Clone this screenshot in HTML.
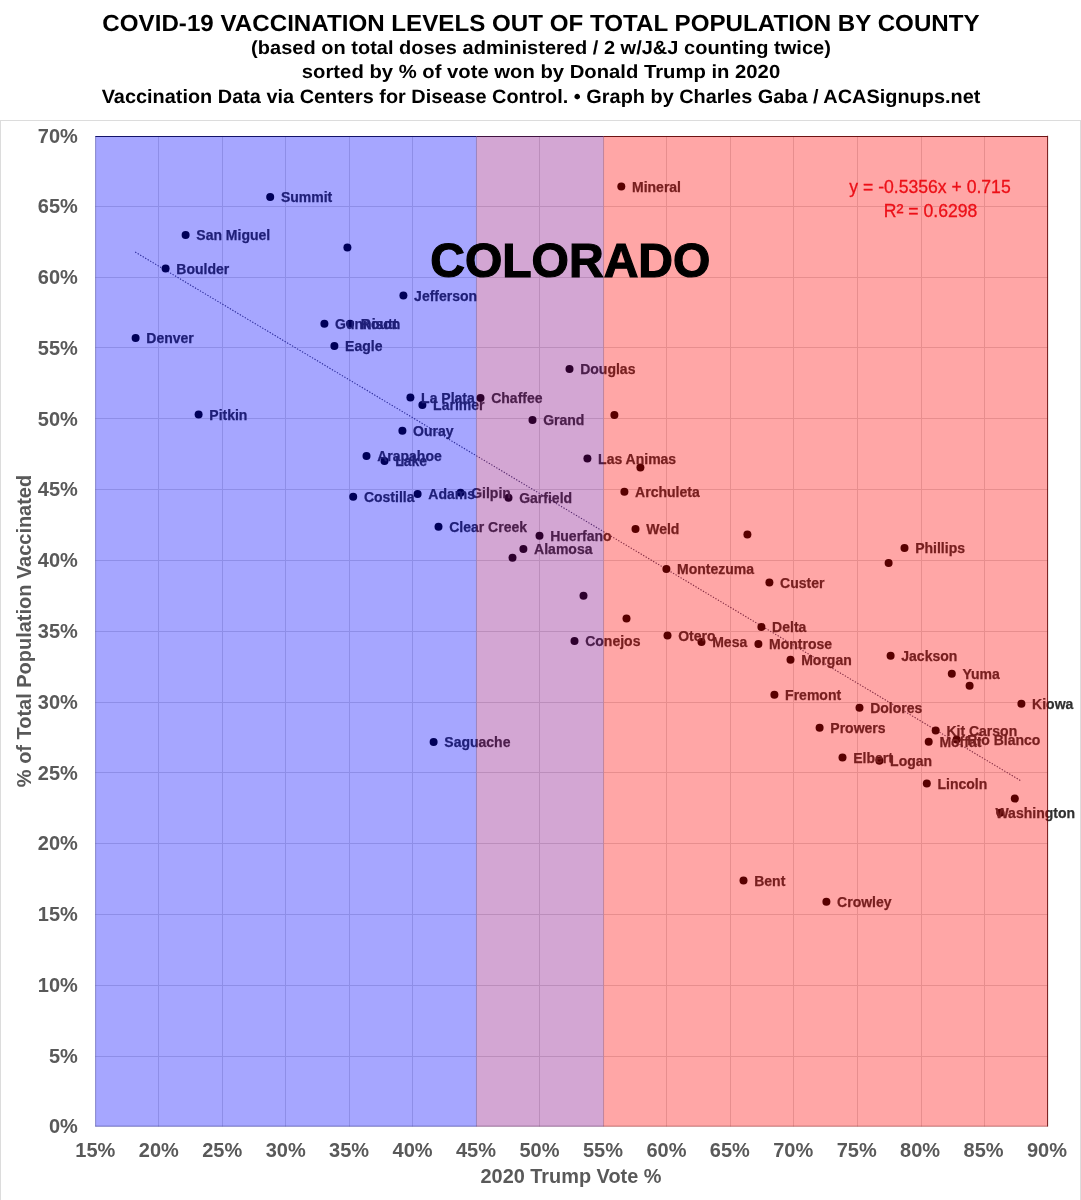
<!DOCTYPE html>
<html lang="en">
<head>
<meta charset="utf-8">
<title>COVID-19 Vaccination Levels by County - Colorado</title>
<style>
html,body{margin:0;padding:0;background:#fff;}
body{width:1081px;height:1200px;position:relative;overflow:hidden;font-family:"Liberation Sans",Arial,sans-serif;}
.t{position:absolute;left:0;width:1082px;text-align:center;font-weight:bold;color:#000;white-space:nowrap;line-height:1;}
#frame{position:absolute;left:0;top:120px;width:1079px;height:1100px;border:1px solid #dcdcdc;box-sizing:content-box;}
svg{position:absolute;left:0;top:0;}
.ax{font-family:"Liberation Sans",Arial,sans-serif;font-weight:bold;font-size:20px;fill:#595959;}
.lb{font-family:"Liberation Sans",Arial,sans-serif;font-weight:bold;font-size:14px;fill:#303030;stroke:#303030;stroke-width:0.25px;}
.eq{font-family:"Liberation Sans",Arial,sans-serif;font-size:17.6px;fill:#e21824;stroke:#e21824;stroke-width:0.3px;}
.big{font-family:"Liberation Sans",Arial,sans-serif;font-weight:bold;font-size:47.5px;fill:#000;stroke:#000;stroke-width:1.2px;}
</style>
</head>
<body>
<div class="t" id="t1" style="top:11.8px;font-size:23.25px;transform:scaleX(1.039) skewX(0.05deg);">COVID-19 VACCINATION LEVELS OUT OF TOTAL POPULATION BY COUNTY</div>
<div class="t" id="t2" style="top:38.3px;font-size:19px;transform:scaleX(1.054) skewX(0.05deg);">(based on total doses administered / 2 w/J&amp;J counting twice)</div>
<div class="t" id="t3" style="top:62.4px;font-size:19px;transform:scaleX(1.066) skewX(0.05deg);">sorted by % of vote won by Donald Trump in 2020</div>
<div class="t" id="t4" style="top:86.5px;font-size:19.33px;transform:scaleX(1.0295) skewX(0.05deg);">Vaccination Data via Centers for Disease Control. &bull; Graph by Charles Gaba / ACASignups.net</div>
<div id="frame"></div>
<svg width="1081" height="1200" viewBox="0 0 1081 1200">

<g stroke="#dadada" stroke-width="1" fill="none">
<line x1="158.50" y1="136.30" x2="158.50" y2="1126.50"/>
<line x1="222.50" y1="136.30" x2="222.50" y2="1126.50"/>
<line x1="285.50" y1="136.30" x2="285.50" y2="1126.50"/>
<line x1="349.50" y1="136.30" x2="349.50" y2="1126.50"/>
<line x1="412.50" y1="136.30" x2="412.50" y2="1126.50"/>
<line x1="476.50" y1="136.30" x2="476.50" y2="1126.50"/>
<line x1="539.50" y1="136.30" x2="539.50" y2="1126.50"/>
<line x1="603.50" y1="136.30" x2="603.50" y2="1126.50"/>
<line x1="666.50" y1="136.30" x2="666.50" y2="1126.50"/>
<line x1="730.50" y1="136.30" x2="730.50" y2="1126.50"/>
<line x1="793.50" y1="136.30" x2="793.50" y2="1126.50"/>
<line x1="857.50" y1="136.30" x2="857.50" y2="1126.50"/>
<line x1="921.50" y1="136.30" x2="921.50" y2="1126.50"/>
<line x1="984.50" y1="136.30" x2="984.50" y2="1126.50"/>
<line x1="95.40" y1="206.50" x2="1047.60" y2="206.50"/>
<line x1="95.40" y1="277.50" x2="1047.60" y2="277.50"/>
<line x1="95.40" y1="347.50" x2="1047.60" y2="347.50"/>
<line x1="95.40" y1="418.50" x2="1047.60" y2="418.50"/>
<line x1="95.40" y1="489.50" x2="1047.60" y2="489.50"/>
<line x1="95.40" y1="560.50" x2="1047.60" y2="560.50"/>
<line x1="95.40" y1="631.50" x2="1047.60" y2="631.50"/>
<line x1="95.40" y1="702.50" x2="1047.60" y2="702.50"/>
<line x1="95.40" y1="772.50" x2="1047.60" y2="772.50"/>
<line x1="95.40" y1="843.50" x2="1047.60" y2="843.50"/>
<line x1="95.40" y1="914.50" x2="1047.60" y2="914.50"/>
<line x1="95.40" y1="985.50" x2="1047.60" y2="985.50"/>
<line x1="95.40" y1="1056.50" x2="1047.60" y2="1056.50"/>
</g>
<line id="trend" x1="135.2" y1="252.06" x2="1020.9" y2="780.82" stroke="#404064" stroke-width="1.1" stroke-dasharray="1.3 1.6"/>
<g fill="#000">
<circle cx="270.2" cy="196.9" r="4"/>
<circle cx="185.6" cy="234.9" r="4"/>
<circle cx="347.4" cy="247.5" r="4"/>
<circle cx="165.6" cy="268.5" r="4"/>
<circle cx="403.4" cy="295.5" r="4"/>
<circle cx="324.4" cy="323.8" r="4"/>
<circle cx="350.1" cy="323.8" r="4"/>
<circle cx="334.4" cy="346.0" r="4"/>
<circle cx="135.6" cy="338.1" r="4"/>
<circle cx="410.4" cy="397.6" r="4"/>
<circle cx="422.4" cy="404.9" r="4"/>
<circle cx="480.5" cy="397.9" r="4"/>
<circle cx="198.6" cy="414.6" r="4"/>
<circle cx="402.4" cy="430.7" r="4"/>
<circle cx="366.5" cy="455.9" r="4"/>
<circle cx="384.5" cy="461.0" r="4"/>
<circle cx="353.2" cy="496.7" r="4"/>
<circle cx="417.6" cy="494.0" r="4"/>
<circle cx="460.5" cy="492.8" r="4"/>
<circle cx="508.5" cy="497.8" r="4"/>
<circle cx="438.5" cy="526.8" r="4"/>
<circle cx="433.6" cy="741.9" r="4"/>
<circle cx="569.5" cy="368.9" r="4"/>
<circle cx="532.5" cy="419.9" r="4"/>
<circle cx="614.4" cy="415.0" r="4"/>
<circle cx="587.4" cy="458.5" r="4"/>
<circle cx="640.4" cy="467.5" r="4"/>
<circle cx="624.4" cy="491.8" r="4"/>
<circle cx="635.5" cy="528.9" r="4"/>
<circle cx="539.5" cy="535.7" r="4"/>
<circle cx="523.4" cy="548.9" r="4"/>
<circle cx="512.5" cy="557.8" r="4"/>
<circle cx="666.4" cy="568.9" r="4"/>
<circle cx="583.5" cy="595.8" r="4"/>
<circle cx="626.5" cy="618.6" r="4"/>
<circle cx="574.5" cy="640.9" r="4"/>
<circle cx="667.5" cy="635.5" r="4"/>
<circle cx="701.5" cy="641.9" r="4"/>
<circle cx="761.4" cy="626.9" r="4"/>
<circle cx="758.4" cy="643.9" r="4"/>
<circle cx="790.5" cy="659.8" r="4"/>
<circle cx="774.4" cy="694.8" r="4"/>
<circle cx="769.4" cy="582.6" r="4"/>
<circle cx="747.4" cy="534.6" r="4"/>
<circle cx="904.5" cy="547.9" r="4"/>
<circle cx="888.6" cy="562.9" r="4"/>
<circle cx="890.6" cy="655.7" r="4"/>
<circle cx="951.8" cy="673.8" r="4"/>
<circle cx="969.6" cy="685.7" r="4"/>
<circle cx="1021.4" cy="703.8" r="4"/>
<circle cx="859.5" cy="707.7" r="4"/>
<circle cx="819.6" cy="727.8" r="4"/>
<circle cx="935.7" cy="730.6" r="4"/>
<circle cx="928.7" cy="741.7" r="4"/>
<circle cx="956.6" cy="739.5" r="4"/>
<circle cx="842.5" cy="757.6" r="4"/>
<circle cx="879.4" cy="760.7" r="4"/>
<circle cx="926.8" cy="783.6" r="4"/>
<circle cx="1014.8" cy="798.6" r="4"/>
<circle cx="1000.3" cy="812.8" r="4"/>
<circle cx="743.5" cy="880.6" r="4"/>
<circle cx="826.4" cy="901.8" r="4"/>
<circle cx="621.3" cy="186.6" r="4"/>
</g>
<g class="lb">
<text x="280.9" y="202.1">Summit</text>
<text x="196.3" y="240.1">San Miguel</text>
<text x="176.3" y="273.7">Boulder</text>
<text x="414.1" y="300.7">Jefferson</text>
<text x="335.1" y="329.0">Gunnison</text>
<text x="360.8" y="329.0">Routt</text>
<text x="345.1" y="351.2">Eagle</text>
<text x="146.3" y="343.3">Denver</text>
<text x="421.1" y="402.8">La Plata</text>
<text x="433.1" y="410.1">Larimer</text>
<text x="491.2" y="403.1">Chaffee</text>
<text x="209.3" y="419.8">Pitkin</text>
<text x="413.1" y="435.9">Ouray</text>
<text x="377.2" y="461.1">Arapahoe</text>
<text x="395.2" y="466.2">Lake</text>
<text x="363.9" y="501.9">Costilla</text>
<text x="428.3" y="499.2">Adams</text>
<text x="471.2" y="498.0">Gilpin</text>
<text x="519.2" y="503.0">Garfield</text>
<text x="449.2" y="532.0">Clear Creek</text>
<text x="444.3" y="747.1">Saguache</text>
<text x="580.2" y="374.1">Douglas</text>
<text x="543.2" y="425.1">Grand</text>
<text x="598.1" y="463.7">Las Animas</text>
<text x="635.1" y="497.0">Archuleta</text>
<text x="646.2" y="534.1">Weld</text>
<text x="550.2" y="540.9">Huerfano</text>
<text x="534.1" y="554.1">Alamosa</text>
<text x="677.1" y="574.1">Montezuma</text>
<text x="585.2" y="646.1">Conejos</text>
<text x="678.2" y="640.7">Otero</text>
<text x="712.2" y="647.1">Mesa</text>
<text x="772.1" y="632.1">Delta</text>
<text x="769.1" y="649.1">Montrose</text>
<text x="801.2" y="665.0">Morgan</text>
<text x="785.1" y="700.0">Fremont</text>
<text x="780.1" y="587.8">Custer</text>
<text x="915.2" y="553.1">Phillips</text>
<text x="901.3" y="660.9">Jackson</text>
<text x="962.5" y="679.0">Yuma</text>
<text x="1032.1" y="709.0">Kiowa</text>
<text x="870.2" y="712.9">Dolores</text>
<text x="830.3" y="733.0">Prowers</text>
<text x="946.4" y="735.8">Kit Carson</text>
<text x="939.4" y="746.9">Moffat</text>
<text x="967.3" y="744.7">Rio Blanco</text>
<text x="853.2" y="762.8">Elbert</text>
<text x="890.1" y="765.9">Logan</text>
<text x="937.5" y="788.8">Lincoln</text>
<text x="1075" y="818.0" text-anchor="end">Washington</text>
<text x="754.2" y="885.8">Bent</text>
<text x="837.1" y="907.0">Crowley</text>
<text x="632.0" y="191.8">Mineral</text>
</g>
<g class="ax">
<text transform="translate(77.8,142.5) scale(1,1.05)" text-anchor="end">70%</text>
<text transform="translate(77.8,213.3) scale(1,1.05)" text-anchor="end">65%</text>
<text transform="translate(77.8,284.1) scale(1,1.05)" text-anchor="end">60%</text>
<text transform="translate(77.8,354.8) scale(1,1.05)" text-anchor="end">55%</text>
<text transform="translate(77.8,425.6) scale(1,1.05)" text-anchor="end">50%</text>
<text transform="translate(77.8,496.4) scale(1,1.05)" text-anchor="end">45%</text>
<text transform="translate(77.8,567.2) scale(1,1.05)" text-anchor="end">40%</text>
<text transform="translate(77.8,638.0) scale(1,1.05)" text-anchor="end">35%</text>
<text transform="translate(77.8,708.7) scale(1,1.05)" text-anchor="end">30%</text>
<text transform="translate(77.8,779.5) scale(1,1.05)" text-anchor="end">25%</text>
<text transform="translate(77.8,850.3) scale(1,1.05)" text-anchor="end">20%</text>
<text transform="translate(77.8,921.1) scale(1,1.05)" text-anchor="end">15%</text>
<text transform="translate(77.8,991.9) scale(1,1.05)" text-anchor="end">10%</text>
<text transform="translate(77.8,1062.6) scale(1,1.05)" text-anchor="end">5%</text>
<text transform="translate(77.8,1133.4) scale(1,1.05)" text-anchor="end">0%</text>
<text transform="translate(95.3,1157.2) scale(1,1.04)" text-anchor="middle">15%</text>
<text transform="translate(158.8,1157.2) scale(1,1.04)" text-anchor="middle">20%</text>
<text transform="translate(222.2,1157.2) scale(1,1.04)" text-anchor="middle">25%</text>
<text transform="translate(285.7,1157.2) scale(1,1.04)" text-anchor="middle">30%</text>
<text transform="translate(349.1,1157.2) scale(1,1.04)" text-anchor="middle">35%</text>
<text transform="translate(412.6,1157.2) scale(1,1.04)" text-anchor="middle">40%</text>
<text transform="translate(476.0,1157.2) scale(1,1.04)" text-anchor="middle">45%</text>
<text transform="translate(539.5,1157.2) scale(1,1.04)" text-anchor="middle">50%</text>
<text transform="translate(602.9,1157.2) scale(1,1.04)" text-anchor="middle">55%</text>
<text transform="translate(666.4,1157.2) scale(1,1.04)" text-anchor="middle">60%</text>
<text transform="translate(729.8,1157.2) scale(1,1.04)" text-anchor="middle">65%</text>
<text transform="translate(793.2,1157.2) scale(1,1.04)" text-anchor="middle">70%</text>
<text transform="translate(856.7,1157.2) scale(1,1.04)" text-anchor="middle">75%</text>
<text transform="translate(920.1,1157.2) scale(1,1.04)" text-anchor="middle">80%</text>
<text transform="translate(983.6,1157.2) scale(1,1.04)" text-anchor="middle">85%</text>
<text transform="translate(1047.0,1157.2) scale(1,1.04)" text-anchor="middle">90%</text>
<text x="571" y="1183.3" text-anchor="middle" style="font-size:19.9px">2020 Trump Vote %</text>
<text transform="translate(31.1,631) rotate(-90) scale(1,1.02)" text-anchor="middle" style="font-size:19.97px">% of Total Population Vaccinated</text>
</g>
<text class="eq" x="930" y="193.2" text-anchor="middle">y = -0.5356x + 0.715</text>
<text class="eq" x="930.5" y="216.6" text-anchor="middle">R<tspan style="font-size:21px" dy="2.4">²</tspan><tspan dy="-2.4"> = 0.6298</tspan></text>
<rect x="95.40" y="136.30" width="381.00" height="990.20" fill="rgba(0,0,255,0.35)"/>
<rect x="476.40" y="136.30" width="127.20" height="990.20" fill="rgba(128,0,128,0.35)"/>
<rect x="603.60" y="136.30" width="444.00" height="990.20" fill="rgba(255,0,0,0.35)"/>
<line x1="95.40" y1="136.5" x2="476.40" y2="136.5" stroke="rgba(10,10,96,0.95)" stroke-width="1"/>
<line x1="95.40" y1="1126.20" x2="476.40" y2="1126.20" stroke="rgba(10,10,96,0.5)" stroke-width="0.8"/>
<line x1="476.40" y1="136.5" x2="603.60" y2="136.5" stroke="rgba(56,10,56,0.95)" stroke-width="1"/>
<line x1="476.40" y1="1126.20" x2="603.60" y2="1126.20" stroke="rgba(56,10,56,0.5)" stroke-width="0.8"/>
<line x1="603.60" y1="136.5" x2="1047.60" y2="136.5" stroke="rgba(100,10,10,0.95)" stroke-width="1"/>
<line x1="603.60" y1="1126.20" x2="1047.60" y2="1126.20" stroke="rgba(100,10,10,0.5)" stroke-width="0.8"/>
<line x1="95.60" y1="136.30" x2="95.60" y2="1126.50" stroke="rgba(0,0,90,0.4)" stroke-width="0.8"/>
<line x1="476.40" y1="136.30" x2="476.40" y2="1126.50" stroke="rgba(0,0,90,0.14)" stroke-width="0.8"/>
<line x1="603.60" y1="136.30" x2="603.60" y2="1126.50" stroke="rgba(60,0,60,0.13)" stroke-width="0.8"/>
<line x1="1047.60" y1="135.80" x2="1047.60" y2="1126.50" stroke="rgba(96,0,0,0.9)" stroke-width="1"/>
<text class="big" transform="translate(570.3,277.2) scale(1.011,1)" text-anchor="middle">COLORADO</text>
</svg>
</body>
</html>
